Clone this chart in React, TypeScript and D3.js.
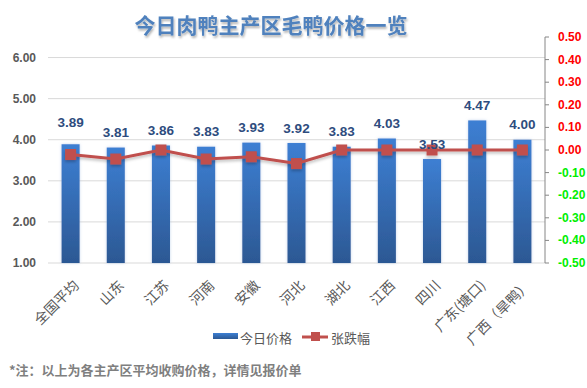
import * as d3 from "d3"

const categories = ["全国平均", "山东", "江苏", "河南", "安徽", "河北", "湖北", "江西", "四川", "广东(塘口)", "广西（旱鸭）"]
const prices = [3.89, 3.81, 3.86, 3.83, 3.93, 3.92, 3.83, 4.03, 3.53, 4.47, 4.0]
const changes = [-0.02, -0.04, 0.0, -0.04, -0.03, -0.06, 0.0, 0.0, 0.0, 0.0, 0.0]
const leftTicks = [1, 2, 3, 4, 5, 6]
const rightTicks = [0.5, 0.4, 0.3, 0.2, 0.1, 0, -0.1, -0.2, -0.3, -0.4, -0.5]

const W = 587
const H = 388
const plot = { left: 48, right: 545, top: 37, bottom: 263 }
const cjk = "'Noto Sans CJK SC', 'Noto Sans', sans-serif"
const latin = "'Liberation Sans', Arial, sans-serif"

export default function App() {
  const x = d3.scaleBand<string>().domain(categories).range([plot.left, plot.right]).paddingInner(0.6).paddingOuter(0.3)
  const yL = d3.scaleLinear().domain([1, 6.5]).range([plot.bottom, plot.top])
  const yR = d3.scaleLinear().domain([-0.5, 0.5]).range([plot.bottom, plot.top])
  const cx = (c: string) => (x(c) || 0) + x.bandwidth() / 2

  const line = d3
    .line<number>()
    .x((_, i) => cx(categories[i]))
    .y((d) => yR(d))

  return (
    <svg width={W} height={H} style={{ position: "absolute", left: 0, top: 0, background: "#fff" }}>
      <defs>
        <linearGradient id="barGrad" x1="0" y1="0" x2="0" y2="1">
          <stop offset="0%" stopColor="#3d7fd3" />
          <stop offset="100%" stopColor="#2c5893" />
        </linearGradient>
        <filter id="glow" x="-30%" y="-30%" width="160%" height="160%">
          <feGaussianBlur in="SourceAlpha" stdDeviation="1.5" />
          <feOffset dx="0" dy="0" result="b" />
          <feFlood floodColor="#9bb7e0" floodOpacity="0.6" />
          <feComposite in2="b" operator="in" />
          <feMerge>
            <feMergeNode />
            <feMergeNode in="SourceGraphic" />
          </feMerge>
        </filter>
        <filter id="lineShadow" x="-10%" y="-50%" width="120%" height="200%">
          <feGaussianBlur in="SourceAlpha" stdDeviation="1.5" />
          <feOffset dx="0" dy="1.5" result="b" />
          <feFlood floodColor="#000" floodOpacity="0.25" />
          <feComposite in2="b" operator="in" />
          <feMerge>
            <feMergeNode />
            <feMergeNode in="SourceGraphic" />
          </feMerge>
        </filter>
        <filter id="titleShadow" x="-5%" y="-30%" width="110%" height="160%">
          <feGaussianBlur in="SourceAlpha" stdDeviation="0.8" />
          <feOffset dx="1" dy="1.5" result="b" />
          <feFlood floodColor="#000" floodOpacity="0.3" />
          <feComposite in2="b" operator="in" />
          <feMerge>
            <feMergeNode />
            <feMergeNode in="SourceGraphic" />
          </feMerge>
        </filter>
      </defs>

      {/* Title */}
      <text x={271} y={33} textAnchor="middle" fontFamily={cjk} fontWeight="bold" fontSize={21} fill="#4f81bd" filter="url(#titleShadow)">
        今日肉鸭主产区毛鸭价格一览
      </text>

      {/* Gridlines */}
      {leftTicks.map((t) => (
        <line key={t} x1={plot.left} x2={plot.right} y1={yL(t)} y2={yL(t)} stroke="#d9d9d9" strokeWidth={1} />
      ))}

      {/* Left axis labels */}
      {leftTicks.map((t) => (
        <text key={t} x={36} y={yL(t)} textAnchor="end" dominantBaseline="central" fontFamily={latin} fontWeight="bold" fontSize={12} fill="#595959">
          {t.toFixed(2)}
        </text>
      ))}

      {/* Bars */}
      {prices.map((v, i) => (
        <rect
          key={categories[i]}
          x={x(categories[i])}
          y={yL(v)}
          width={x.bandwidth()}
          height={yL(1) - yL(v)}
          fill="url(#barGrad)"
          filter="url(#glow)"
        />
      ))}

      {/* Right axis */}
      <line x1={plot.right} x2={plot.right} y1={plot.top} y2={plot.bottom} stroke="#868686" strokeWidth={1} />
      {rightTicks.map((t) => (
        <g key={t}>
          <line x1={plot.right} x2={plot.right + 4} y1={yR(t)} y2={yR(t)} stroke="#868686" />
          <text
            x={558}
            y={yR(t)}
            dominantBaseline="central"
            fontFamily={latin}
            fontWeight="bold"
            fontSize={12}
            fill={t >= 0 ? "#ff0000" : "#00ee00"}
          >
            {t.toFixed(2)}
          </text>
        </g>
      ))}

      {/* Line series */}
      <g filter="url(#lineShadow)">
        <path d={line(changes) || ""} fill="none" stroke="#c0504d" strokeWidth={3} />
        {changes.map((v, i) => (
          <rect key={categories[i]} x={cx(categories[i]) - 5.5} y={yR(v) - 5.5} width={11} height={11} fill="#c0504d" />
        ))}
      </g>

      {/* Data labels */}
      {prices.map((v, i) => (
        <text
          key={categories[i]}
          x={cx(categories[i])}
          y={yL(v) - (i === 0 ? 22 : 15)}
          textAnchor="middle"
          dominantBaseline="central"
          fontFamily={latin}
          fontWeight="bold"
          fontSize={13.5}
          fill="#2e4c7e"
        >
          {v.toFixed(2)}
        </text>
      ))}

      {/* X labels */}
      {categories.map((c) => (
        <text
          key={c}
          transform={`translate(${cx(c) + 5},${plot.bottom + 19}) rotate(-45)`}
          textAnchor="end"
          dominantBaseline="central"
          fontFamily={cjk}
          fontSize={14}
          fill="#595959"
        >
          {c}
        </text>
      ))}

      {/* Legend */}
      <rect x={213} y={333} width={25} height={6} fill="url(#barGrad)" />
      <text x={240} y={337} dominantBaseline="central" fontFamily={cjk} fontSize={13} fill="#595959">
        今日价格
      </text>
      <line x1={302} x2={328} y1={337} y2={337} stroke="#c0504d" strokeWidth={3} />
      <rect x={311} y={332} width={9} height={9} fill="#c0504d" />
      <text x={331} y={337} dominantBaseline="central" fontFamily={cjk} fontSize={13} fill="#595959">
        张跌幅
      </text>

      {/* Footnote */}
      <text x={9} y={369} dominantBaseline="central" fontFamily={cjk} fontWeight="bold" fontSize={13} fill="#7f7f7f">
        *注：以上为各主产区平均收购价格，详情见报价单
      </text>
    </svg>
  )
}
